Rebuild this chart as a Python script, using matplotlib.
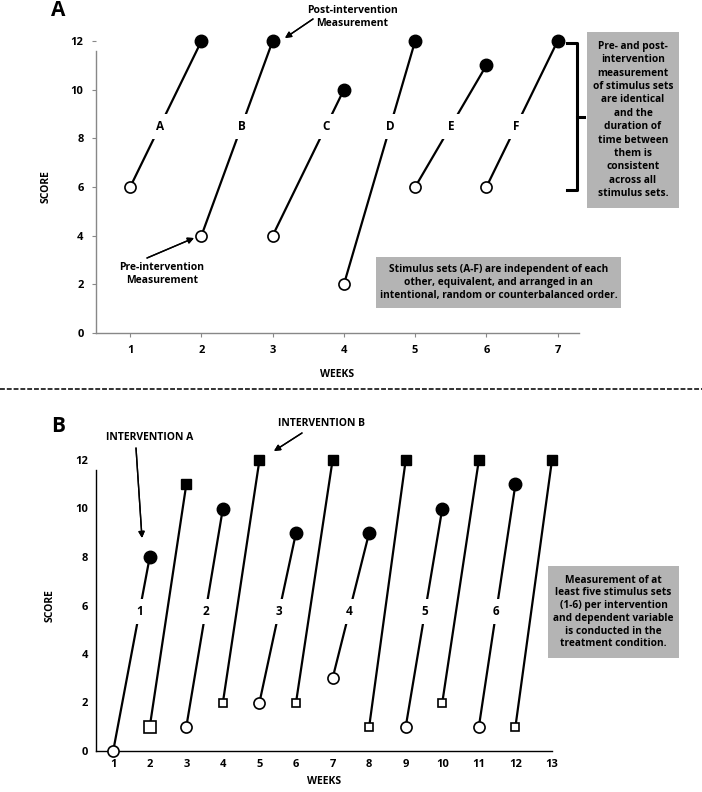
import matplotlib
matplotlib.use('Agg')
import matplotlib.pyplot as plt
from matplotlib.patches import Rectangle
from matplotlib.lines import Line2D

# panel A: stimulus sets A-F
sets_a = ['A', 'B', 'C', 'D', 'E', 'F']
pre_week_a = [1, 2, 3, 4, 5, 6]
post_week_a = [2, 3, 4, 5, 6, 7]
pre_score_a = [6, 4, 4, 2, 6, 6]
post_score_a = [12, 12, 10, 12, 11, 12]

# panel B: stimulus sets 1-6, intervention A (circles) and B (squares)
sets_b = ['1', '2', '3', '4', '5', '6']
pre_week_circ = [1, 3, 5, 7, 9, 11]
post_week_circ = [2, 4, 6, 8, 10, 12]
pre_score_circ = [0, 1, 2, 3, 1, 1]
post_score_circ = [8, 10, 9, 9, 10, 11]
pre_week_sq = [2, 4, 6, 8, 10, 12]
post_week_sq = [3, 5, 7, 9, 11, 13]
pre_score_sq = [1, 2, 2, 1, 2, 1]
post_score_sq = [11, 12, 12, 12, 12, 12]

W, H = 702, 792
FONT = 'Open Sans'
BOX_GREY = '#b4b4b4'


def fx(x):
    return x / W


def fy(y):
    return 1 - y / H


def bold_text(fig, x, y, s, size=7.5, **kw):
    fig.text(fx(x), fy(y), s, fontsize=size, fontweight='bold', family=FONT,
             ha='center', va='center', **kw)


def grey_box(fig, x0, y0, x1, y1, s, linespacing=1.3):
    fig.patches.append(Rectangle((fx(x0), fy(y1)), fx(x1) - fx(x0), fy(y0) - fy(y1),
                                 transform=fig.transFigure, facecolor=BOX_GREY,
                                 edgecolor='none', zorder=0))
    bold_text(fig, (x0 + x1) / 2, (y0 + y1) / 2, s, size=7.3, linespacing=linespacing)


def arrow(fig, x0, y0, x1, y1):
    fig.add_artist(plt.annotate('', xy=(fx(x1), fy(y1)), xytext=(fx(x0), fy(y0)),
                                xycoords='figure fraction', textcoords='figure fraction',
                                arrowprops=dict(arrowstyle='-|>', color='black', lw=1.0,
                                                mutation_scale=9, shrinkA=0, shrinkB=0)))


def draw_sets(ax, pre_w, post_w, pre_s, post_s, labels, label_y, marker, ms_open, ms_fill):
    for i in range(len(pre_w)):
        ax.plot([pre_w[i], post_w[i]], [pre_s[i], post_s[i]], color='black', lw=1.6,
                zorder=2, clip_on=False)
        mo = ms_open[i] if isinstance(ms_open, list) else ms_open
        ax.plot(pre_w[i], pre_s[i], marker=marker, ms=mo, mfc='white', mec='black',
                mew=1.2, zorder=4, clip_on=False)
        ax.plot(post_w[i], post_s[i], marker=marker, ms=ms_fill, mfc='black', mec='black',
                zorder=4, clip_on=False)
        if labels is not None:
            t = (label_y - pre_s[i]) / (post_s[i] - pre_s[i])
            lx = pre_w[i] + t * (post_w[i] - pre_w[i])
            ax.text(lx, label_y, labels[i], fontsize=8.5, fontweight='bold', family=FONT,
                    ha='center', va='center', zorder=3,
                    bbox=dict(boxstyle='square,pad=0.5', fc='white', ec='none'))


def style_axes(ax, spine_color, tick_len, xpad):
    for s in ['top', 'right']:
        ax.spines[s].set_visible(False)
    for s in ['left', 'bottom']:
        ax.spines[s].set_color(spine_color)
        ax.spines[s].set_linewidth(1.0)
    ax.set_yticks(range(0, 13, 2))
    ax.tick_params(length=tick_len, color=spine_color, width=0.8, pad=6)
    for lab in ax.get_xticklabels() + ax.get_yticklabels():
        lab.set_fontweight('bold')
        lab.set_family(FONT)
        lab.set_fontsize(8)
    ax.set_xlabel('WEEKS', fontsize=7.5, fontweight='bold', family=FONT, labelpad=xpad)
    ax.set_ylabel('SCORE', fontsize=7.5, fontweight='bold', family=FONT, labelpad=14)


def main():
    fig = plt.figure(figsize=(W / 100, H / 100), dpi=100)

    # ---- panel A
    ax_a = fig.add_axes([fx(96), fy(333), fx(579) - fx(96), fy(41) - fy(333)])
    draw_sets(ax_a, pre_week_a, post_week_a, pre_score_a, post_score_a, sets_a, 8.5,
              'o', 8, 9)
    ax_a.set_xlim(0.52, 7.3)
    ax_a.set_ylim(0, 12)
    ax_a.set_xticks(range(1, 8))
    ax_a.spines['left'].set_bounds(0, 11.6)
    style_axes(ax_a, '#888888', 3, 9)

    bold_text(fig, 58, 11, 'A', size=15)
    bold_text(fig, 352, 17, 'Post-intervention\nMeasurement', linespacing=1.2)
    arrow(fig, 313, 19, 285, 38)
    bold_text(fig, 162, 274, 'Pre-intervention\nMeasurement', linespacing=1.2)
    arrow(fig, 147, 258, 194, 238)

    # bracket
    bx, bx0, bx1 = 577, 567, 584
    for xs, ys in [([bx0, bx, bx, bx0], [43, 43, 190, 190]), ([bx, bx1], [117, 117])]:
        fig.add_artist(Line2D([fx(v) for v in xs], [fy(v) for v in ys],
                              transform=fig.transFigure, color='black', lw=2.2))

    grey_box(fig, 587, 32, 679, 208,
             'Pre- and post-\nintervention\nmeasurement\nof stimulus sets\nare identical\n'
             'and the\nduration of\ntime between\nthem is\nconsistent\nacross all\nstimulus sets.',
             linespacing=1.3)
    grey_box(fig, 376, 257, 621, 308,
             'Stimulus sets (A-F) are independent of each\nother, equivalent, and arranged in an\n'
             'intentional, random or counterbalanced order.', linespacing=1.25)

    # separator
    fig.add_artist(Line2D([0, 1], [fy(389), fy(389)], transform=fig.transFigure,
                          color='#333333', lw=1.4, linestyle=(0, (2.5, 1))))

    # ---- panel B
    ax_b = fig.add_axes([fx(96), fy(751), fx(552) - fx(96), fy(460) - fy(751)])
    draw_sets(ax_b, pre_week_circ, post_week_circ, pre_score_circ, post_score_circ,
              sets_b, 5.75, 'o', 8, 9)
    draw_sets(ax_b, pre_week_sq, post_week_sq, pre_score_sq, post_score_sq,
              None, 0, 's', [8, 6, 6, 6, 6, 6], 7)
    ax_b.set_xlim(0.53, 13.0)
    ax_b.set_ylim(0, 12)
    ax_b.set_xticks(range(1, 14))
    ax_b.spines['left'].set_bounds(0, 11.6)
    style_axes(ax_b, 'black', 0, 4)

    bold_text(fig, 58, 426, 'B', size=15)
    bold_text(fig, 150, 438, 'INTERVENTION A')
    arrow(fig, 136, 448, 142, 538)
    bold_text(fig, 322, 424, 'INTERVENTION B')
    arrow(fig, 302, 433, 274, 451)

    grey_box(fig, 548, 566, 679, 658,
             'Measurement of at\nleast five stimulus sets\n(1-6) per intervention\n'
             'and dependent variable\nis conducted in the\ntreatment condition.',
             linespacing=1.22)

    fig.savefig('out.png', dpi=100)


if __name__ == '__main__':
    main()
